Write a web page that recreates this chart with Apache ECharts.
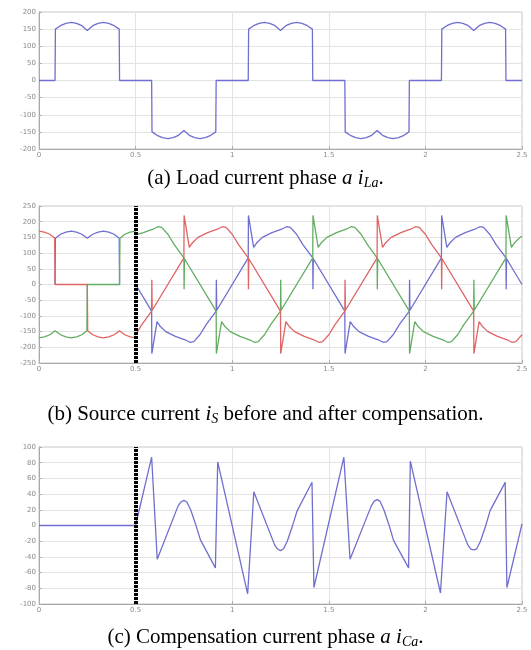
<!DOCTYPE html>
<html>
<head>
<meta charset="utf-8">
<title>load, source and compensation current</title>
<script src="https://cdn.jsdelivr.net/npm/echarts@6/dist/echarts.min.js"></script>
<style>
    html, body { margin: 0; padding: 0; background: #fff; }
    #chart { width: 531px; height: 650px; }
</style>
</head>
<body>
<div id="chart"></div>
<script>
/**
 * values
 * x : time 0 - 2.5, y : current
 */
var xTicks = [0, 0.5, 1, 1.5, 2, 2.5];
var yTicksA = [-200, -150, -100, -50, 0, 50, 100, 150, 200];
var yTicksB = [-250, -200, -150, -100, -50, 0, 50, 100, 150, 200, 250];
var yTicksC = [-100, -80, -60, -40, -20, 0, 20, 40, 60, 80, 100];
var switchTime = 0.5; // compensation switched on here (black dotted line)

var captions = [
    '(a) Load current phase {i|a} {i|i}{s|La}.',
    '(b) Source current {i|i}{s|S} before and after compensation.',
    '(c) Compensation current phase {i|a} {i|i}{s|Ca}.'
];

// (a) load current phase a
var loadA = [
    [0, 0], [0.083, 0], [0.085, 150], [0.111, 160], [0.139, 167], [0.167, 170], [0.194, 167], [0.222, 160], [0.25, 146],
    [0.278, 160], [0.306, 167], [0.333, 170], [0.361, 167], [0.389, 160], [0.415, 150], [0.417, 0],
    [0.583, 0], [0.585, -150], [0.611, -160], [0.639, -167], [0.667, -170], [0.694, -167], [0.722, -160], [0.75, -146],
    [0.778, -160], [0.806, -167], [0.833, -170], [0.861, -167], [0.889, -160], [0.915, -150], [0.917, 0],
    [1.083, 0], [1.085, 150], [1.111, 160], [1.139, 167], [1.167, 170], [1.194, 167], [1.222, 160], [1.25, 146],
    [1.278, 160], [1.306, 167], [1.333, 170], [1.361, 167], [1.389, 160], [1.415, 150], [1.417, 0],
    [1.583, 0], [1.585, -150], [1.611, -160], [1.639, -167], [1.667, -170], [1.694, -167], [1.722, -160], [1.75, -146],
    [1.778, -160], [1.806, -167], [1.833, -170], [1.861, -167], [1.889, -160], [1.915, -150], [1.917, 0],
    [2.083, 0], [2.085, 150], [2.111, 160], [2.139, 167], [2.167, 170], [2.194, 167], [2.222, 160], [2.25, 146],
    [2.278, 160], [2.306, 167], [2.333, 170], [2.361, 167], [2.389, 160], [2.415, 150], [2.417, 0], [2.5, 0]
];

// (b) source currents before compensation
var srcRedBefore = [
    [0, 170], [0.028, 167], [0.056, 160], [0.081, 148], [0.083, 0], [0.25, 0], [0.252, -147],
    [0.278, -160], [0.306, -167], [0.333, -170], [0.361, -167], [0.389, -160], [0.417, -147],
    [0.444, -160], [0.472, -167], [0.5, -170]
];
var srcGreenBefore = [
    [0, -170], [0.028, -167], [0.056, -160], [0.083, -147], [0.111, -160], [0.139, -167], [0.167, -170],
    [0.194, -167], [0.222, -160], [0.248, -147], [0.25, 0], [0.417, 0], [0.419, 147], [0.444, 160],
    [0.472, 167], [0.5, 170]
];
var srcBlueBefore = [
    [0.083, 0], [0.085, 147], [0.111, 160], [0.139, 167], [0.167, 170], [0.194, 167], [0.222, 160], [0.25, 147],
    [0.278, 160], [0.306, 167], [0.333, 170], [0.361, 167], [0.389, 160], [0.415, 147], [0.417, 0]
];

// (b) source currents after compensation
var srcRedAfter = [
    [0.5, -160], [0.533, -127], [0.583, -85], [0.584, 15], [0.586, -82],
    [0.75, 85], [0.751, 220], [0.778, 118], [0.793, 132], [0.823, 150], [0.873, 165], [0.923, 176], [0.948, 184], [0.968, 182], [1.0, 160], [1.033, 127],
    [1.083, 85], [1.084, -15], [1.086, 82],
    [1.25, -85], [1.251, -220], [1.278, -118], [1.293, -132], [1.323, -150], [1.373, -165], [1.423, -176], [1.448, -184], [1.468, -182], [1.5, -160], [1.533, -127],
    [1.583, -85], [1.584, 15], [1.586, -82],
    [1.75, 85], [1.751, 220], [1.778, 118], [1.793, 132], [1.823, 150], [1.873, 165], [1.923, 176], [1.948, 184], [1.968, 182], [2.0, 160], [2.033, 127],
    [2.083, 85], [2.084, -15], [2.086, 82],
    [2.25, -85], [2.251, -220], [2.278, -118], [2.293, -132], [2.323, -150], [2.373, -165], [2.423, -176], [2.448, -184], [2.468, -182], [2.5, -160]
];
var srcGreenAfter = [
    [0.5, 158], [0.54, 165], [0.59, 176], [0.615, 184], [0.635, 182], [0.667, 160], [0.7, 127],
    [0.75, 85], [0.751, -15], [0.753, 82],
    [0.917, -85], [0.918, -220], [0.945, -118], [0.96, -132], [0.99, -150], [1.04, -165], [1.09, -176], [1.115, -184], [1.135, -182], [1.167, -160], [1.2, -127],
    [1.25, -85], [1.251, 15], [1.253, -82],
    [1.417, 85], [1.418, 220], [1.445, 118], [1.46, 132], [1.49, 150], [1.54, 165], [1.59, 176], [1.615, 184], [1.635, 182], [1.667, 160], [1.7, 127],
    [1.75, 85], [1.751, -15], [1.753, 82],
    [1.917, -85], [1.918, -220], [1.945, -118], [1.96, -132], [1.99, -150], [2.04, -165], [2.09, -176], [2.115, -184], [2.135, -182], [2.167, -160], [2.2, -127],
    [2.25, -85], [2.251, 15], [2.253, -82],
    [2.417, 85], [2.418, 220], [2.445, 118], [2.46, 132], [2.49, 150], [2.5, 153]
];
var srcBlueAfter = [
    [0.5, 0], [0.583, -85], [0.584, -220], [0.611, -118], [0.626, -132], [0.656, -150], [0.706, -165], [0.756, -176], [0.781, -184], [0.801, -182], [0.833, -160], [0.866, -127],
    [0.917, -85], [0.918, 15], [0.92, -82],
    [1.083, 85], [1.084, 220], [1.111, 118], [1.126, 132], [1.156, 150], [1.206, 165], [1.256, 176], [1.281, 184], [1.301, 182], [1.333, 160], [1.366, 127],
    [1.417, 85], [1.418, -15], [1.42, 82],
    [1.583, -85], [1.584, -220], [1.611, -118], [1.626, -132], [1.656, -150], [1.706, -165], [1.756, -176], [1.781, -184], [1.801, -182], [1.833, -160], [1.866, -127],
    [1.917, -85], [1.918, 15], [1.92, -82],
    [2.083, 85], [2.084, 220], [2.111, 118], [2.126, 132], [2.156, 150], [2.206, 165], [2.256, 176], [2.281, 184], [2.301, 182], [2.333, 160], [2.366, 127],
    [2.417, 85], [2.418, -15], [2.42, 82], [2.5, 0]
];

// (c) compensation current phase a
var compA = [
    [0, 0], [0.5, 0], [0.583, 87], [0.612, -43], [0.72, 25], [0.735, 30], [0.75, 32], [0.765, 30], [0.785, 20], [0.81, 2], [0.835, -18],
    [0.913, -54], [0.925, 81], [1.08, -87], [1.112, 43], [1.22, -25], [1.235, -30], [1.25, -32], [1.265, -30], [1.285, -20], [1.31, -2], [1.335, 18],
    [1.413, 55], [1.423, -79], [1.578, 87], [1.61, -43], [1.72, 25], [1.735, 31], [1.75, 33], [1.765, 31], [1.785, 20], [1.81, 2], [1.835, -19],
    [1.913, -54], [1.922, 82], [2.078, -86], [2.112, 43], [2.22, -25], [2.235, -30], [2.25, -31], [2.265, -30], [2.285, -20], [2.31, -2], [2.335, 19],
    [2.413, 55], [2.422, -79], [2.5, 2]
];

var BLUE = '#6f6fcf', RED = '#df6464', GREEN = '#62ad62';

/**
 * one axis, ticks give min / max / interval
 */
function makeAxis(ticks, gridIndex){
    return {
        type: 'value',
        gridIndex: gridIndex,
        min: ticks[0],
        max: ticks[ticks.length - 1],
        interval: ticks[1] - ticks[0],
        axisLine: {show: true, onZero: false, lineStyle: {color: '#a8a8a8', width: 1}},
        axisTick: {show: true, inside: true, length: 3, lineStyle: {color: '#b0b0b0'}},
        axisLabel: {fontSize: 7, color: '#8a8a8a', margin: 3, fontFamily: 'DejaVu Sans'},
        splitLine: {show: true, lineStyle: {color: '#e3e3e3', width: 1}}
    };
}

function makeLine(data, color, g){
    return {
        type: 'line',
        xAxisIndex: g,
        yAxisIndex: g,
        data: data,
        showSymbol: false,
        symbol: 'none',
        lineStyle: {color: color, width: 1.3},
        itemStyle: {color: color},
        z: 3
    };
}

// the black dotted line where compensation starts
var switchMark = {
    silent: true,
    symbol: ['none', 'none'],
    label: {show: false},
    lineStyle: {color: '#000', width: 4, type: [3, 1]},
    data: [{xAxis: switchTime}]
};

var captionStyle = {
    fontFamily: 'Liberation Serif',
    fontSize: 21,
    fontWeight: 'normal',
    color: '#000',
    rich: {
        i: {fontFamily: 'Liberation Serif', fontSize: 21, fontStyle: 'italic', color: '#000'},
        s: {fontFamily: 'Liberation Serif', fontSize: 14, fontStyle: 'italic', color: '#000', padding: [10, 0, 0, 0]}
    }
};

var grids = [
    {left: 39, right: 9, top: 12, height: 137},
    {left: 39, right: 9, top: 206, height: 157},
    {left: 39, right: 9, top: 447, height: 157}
];
grids.forEach(function(g){
    g.show = true;
    g.borderColor = '#c8c8c8';
    g.borderWidth = 1;
});

var compLine = makeLine(compA, BLUE, 2);
compLine.markLine = switchMark;
var redAfter = makeLine(srcRedAfter, RED, 1);
redAfter.markLine = switchMark;

var option = {
    animation: false,
    backgroundColor: '#fff',
    title: [
        {text: captions[0], left: 'center', top: 166, padding: 0, textStyle: captionStyle},
        {text: captions[1], left: 'center', top: 402, padding: 0, textStyle: captionStyle},
        {text: captions[2], left: 'center', top: 625, padding: 0, textStyle: captionStyle}
    ],
    grid: grids,
    xAxis: [makeAxis(xTicks, 0), makeAxis(xTicks, 1), makeAxis(xTicks, 2)],
    yAxis: [makeAxis(yTicksA, 0), makeAxis(yTicksB, 1), makeAxis(yTicksC, 2)],
    series: [
        makeLine(loadA, BLUE, 0),
        makeLine(srcBlueBefore, BLUE, 1),
        makeLine(srcRedBefore, RED, 1),
        makeLine(srcGreenBefore, GREEN, 1),
        makeLine(srcBlueAfter, BLUE, 1),
        makeLine(srcGreenAfter, GREEN, 1),
        redAfter,
        compLine
    ]
};

var myChart = echarts.init(document.getElementById('chart'));
myChart.setOption(option);
</script>
</body>
</html>
